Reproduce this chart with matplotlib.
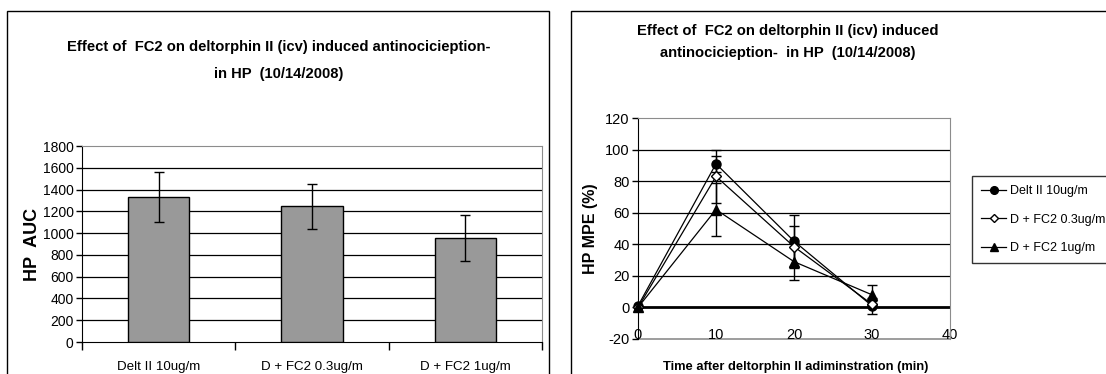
import matplotlib
matplotlib.use("Agg")
import matplotlib.pyplot as plt
from matplotlib import font_manager
from matplotlib.patches import Rectangle

# ---- data ----
categories = ['Delt II 10ug/m', 'D + FC2 0.3ug/m', 'D + FC2 1ug/m']
auc_mean = [1330, 1245, 955]
auc_err = [230, 208, 215]

time_min = [0, 10, 20, 30]
delt_mpe = [1, 91, 42, 1]
delt_err = [0, 5.2, 16.5, 5]
d03_mpe = [0, 83, 38.5, 2]
d03_err = [0, 16.6, 13.3, 2]
d1_mpe = [0, 62, 29, 8]
d1_err = [0, 16.6, 11.5, 6.2]

# ---- fonts ----
names = {f.name for f in font_manager.fontManager.ttflist}
FAM = 'Liberation Sans Narrow' if 'Liberation Sans Narrow' in names else 'Liberation Sans'
plt.rcParams['font.family'] = [FAM, 'DejaVu Sans']
plt.rcParams['axes.unicode_minus'] = False

W, H = 1106, 374
fig = plt.figure(figsize=(W / 100, H / 100), dpi=100)


def fx(px):
    return px / W


def fy(py):
    return 1 - py / H


def axes_px(x0, y0, x1, y1):
    return fig.add_axes([fx(x0), fy(y1), fx(x1 - x0), (y1 - y0) / H])


# chart frames
fig.patches.append(Rectangle((fx(7), fy(400)), fx(549 - 7), (400 - 10.5) / H,
                             transform=fig.transFigure, fill=False,
                             edgecolor='black', lw=1))
fig.patches.append(Rectangle((fx(571), fy(400)), fx(1200 - 571), (400 - 10.5) / H,
                             transform=fig.transFigure, fill=False,
                             edgecolor='black', lw=1))

GRID_GRAY = '#8c8c8c'
TITLE_FS = 10.6

# ---- left: bar chart ----
ax1 = axes_px(82, 146, 542, 342)
xpos = list(range(len(categories)))
ax1.bar(xpos, auc_mean, width=0.4, color='#999999', edgecolor='black', lw=1, zorder=3)
ax1.errorbar(xpos, auc_mean, yerr=auc_err, fmt='none', ecolor='black',
             elinewidth=1, capsize=3.5, capthick=1, zorder=4)
ax1.set_xlim(-0.5, 2.5)
ax1.set_ylim(0, 1800)
ax1.set_yticks(range(0, 1801, 200))
for v in range(200, 1800, 200):
    ax1.axhline(v, color='black', lw=0.9, zorder=1)
ax1.set_xticks(xpos)
ax1.set_xticklabels(categories, fontsize=9.6)
ax1.set_xticks([-0.5, 0.5, 1.5, 2.5], minor=True)
ax1.tick_params(axis='x', which='major', length=0, pad=14)
ax1.tick_params(axis='x', which='minor', length=6, width=1, direction='out')
ax1.tick_params(axis='y', length=4, width=1, direction='out', labelsize=10, pad=2)
for s in ['top', 'right']:
    ax1.spines[s].set_color(GRID_GRAY)
for s in ['left', 'bottom']:
    ax1.spines[s].set_color('black')
ax1.set_ylabel('HP  AUC', fontsize=13, fontweight='bold', labelpad=1)

fig.text(fx(279), fy(47), 'Effect of  FC2 on deltorphin II (icv) induced antinocicieption-',
         ha='center', va='center', fontsize=TITLE_FS, fontweight='bold')
fig.text(fx(279), fy(74), 'in HP  (10/14/2008)',
         ha='center', va='center', fontsize=TITLE_FS, fontweight='bold')

# ---- right: time course ----
ax2 = axes_px(638, 118, 950, 339)
ax2.set_xlim(0, 40)
ax2.set_ylim(-20, 120)
for v in range(20, 120, 20):
    ax2.axhline(v, color='black', lw=0.9, zorder=1)
ax2.axhline(0, color='black', lw=2, zorder=2)

series = [
    (delt_mpe, delt_err, 'o', 'black', 'Delt II 10ug/m', 6.5),
    (d03_mpe, d03_err, 'D', 'white', 'D + FC2 0.3ug/m', 5),
    (d1_mpe, d1_err, '^', 'black', 'D + FC2 1ug/m', 6.5),
]
handles = []
for vals, errs, mk, mfc, lab, ms in series:
    ax2.errorbar(time_min, vals, yerr=errs, fmt='none', ecolor='black',
                 elinewidth=1, capsize=3.5, capthick=1, zorder=3)
    h, = ax2.plot(time_min, vals, color='black', lw=0.9, marker=mk, ms=ms,
                  mfc=mfc, mec='black', mew=1, label=lab, zorder=4, clip_on=False)
    handles.append(h)

ax2.set_yticks(range(-20, 121, 20))
ax2.set_xticks(range(0, 41, 10))
ax2.tick_params(axis='y', length=4, width=1, direction='out', labelsize=10.5, pad=2)
ax2.tick_params(axis='x', length=0, labelsize=10.5, pad=15)
ax2.spines['bottom'].set_position(('data', 0))
ax2.spines['bottom'].set_visible(False)
ax2.axhline(-20, color=GRID_GRAY, lw=1.2, zorder=1, clip_on=False)
for s in ['top', 'right']:
    ax2.spines[s].set_color(GRID_GRAY)
ax2.spines['left'].set_color('black')
ax2.set_ylabel('HP MPE (%)', fontsize=11.5, fontweight='bold', labelpad=5)
fig.text(fx(796), fy(367), 'Time after deltorphin II adiminstration (min)',
         ha='center', va='center', fontsize=9.3, fontweight='bold')

fig.text(fx(788), fy(31), 'Effect of  FC2 on deltorphin II (icv) induced',
         ha='center', va='center', fontsize=TITLE_FS, fontweight='bold')
fig.text(fx(788), fy(53), 'antinocicieption-  in HP  (10/14/2008)',
         ha='center', va='center', fontsize=TITLE_FS, fontweight='bold')

leg = fig.legend(handles=handles, loc='upper left',
                 bbox_to_anchor=(fx(972), fy(176)), bbox_transform=fig.transFigure,
                 fontsize=9.0, frameon=True, fancybox=False, borderaxespad=0,
                 handlelength=2.0, handletextpad=0.3, labelspacing=1.3,
                 borderpad=0.75, markerscale=0.85)
leg.get_frame().set_edgecolor('black')
leg.get_frame().set_linewidth(1)

fig.savefig('out.png', dpi=100)
